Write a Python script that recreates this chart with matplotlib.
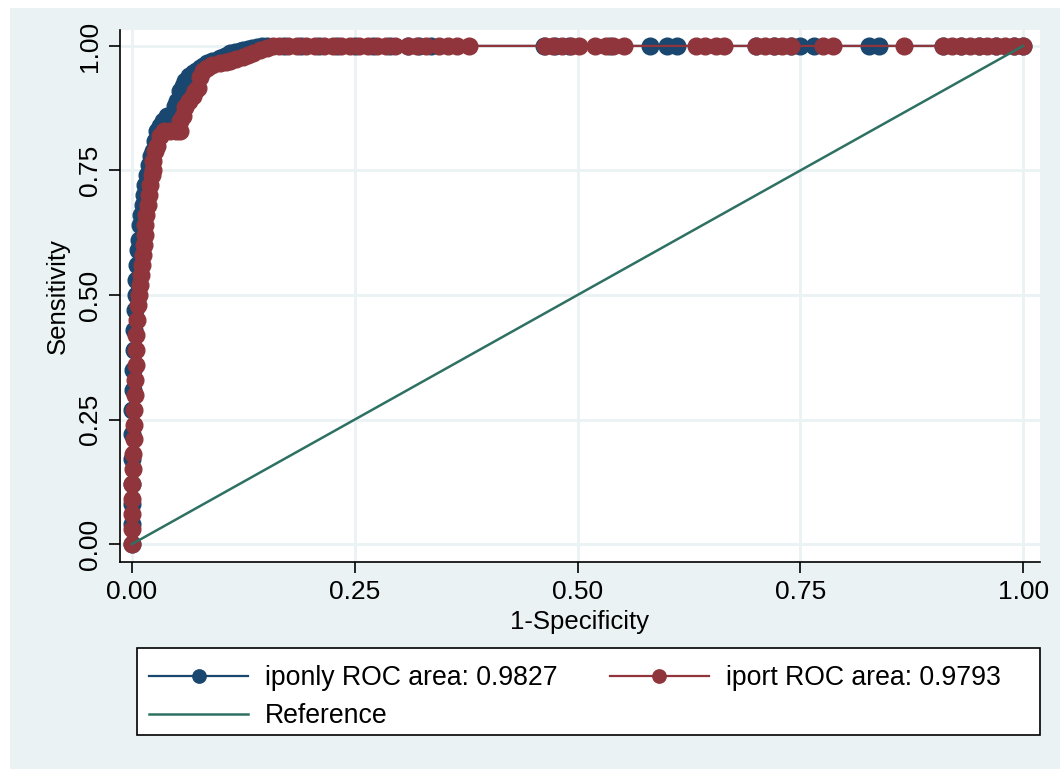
import matplotlib
matplotlib.use('Agg')
import matplotlib.pyplot as plt
from matplotlib.patches import Rectangle

plt.rcParams['font.family'] = ['Liberation Sans', 'DejaVu Sans']

# iponly ROC curve (1-specificity, sensitivity)
iponly_fpr = [0, 0, 0, 0, 0, 0, 0, 0.001, 0.001, 0.002, 0.002, 0.003, 0.004, 0.005,
              0.006, 0.007, 0.008, 0.009, 0.010, 0.012, 0.013, 0.015, 0.017, 0.019,
              0.021, 0.023, 0.026, 0.028, 0.031, 0.035, 0.039, 0.043, 0.048, 0.051,
              0.054, 0.057, 0.060, 0.064, 0.068, 0.072, 0.076, 0.080, 0.084, 0.090,
              0.095, 0.099, 0.104, 0.110, 0.116, 0.121, 0.125, 0.130, 0.135, 0.140,
              0.146, 0.152,
              0.17, 0.19, 0.21, 0.23, 0.25, 0.27, 0.29, 0.31, 0.322, 0.335,
              0.462, 0.475, 0.49, 0.536, 0.581, 0.60, 0.612, 0.70, 0.72, 0.74,
              0.75, 0.765, 0.827, 0.838, 0.91, 0.93, 0.95, 0.97, 0.99, 1.0]
iponly_tpr = [0, 0.04, 0.08, 0.12, 0.17, 0.22, 0.27, 0.31, 0.35, 0.39, 0.43, 0.47,
              0.50, 0.53, 0.56, 0.59, 0.61, 0.64, 0.66, 0.68, 0.70, 0.72, 0.74, 0.76,
              0.78, 0.79, 0.81, 0.83, 0.84, 0.85, 0.86, 0.86, 0.88, 0.89, 0.91, 0.92,
              0.93, 0.94, 0.945, 0.95, 0.955, 0.96, 0.965, 0.97, 0.972, 0.975, 0.98,
              0.985, 0.988, 0.99, 0.992, 0.994, 0.996, 0.997, 0.999, 1.0,
              1, 1, 1, 1, 1, 1, 1, 1, 1, 1,
              1, 1, 1, 1, 1, 1, 1, 1, 1, 1,
              1, 1, 1, 1, 1, 1, 1, 1, 1, 1]

# iport ROC curve
iport_fpr = [0, 0, 0, 0, 0, 0.001, 0.001, 0.002, 0.002, 0.002, 0.003, 0.003, 0.004,
             0.004, 0.005, 0.006, 0.007, 0.008, 0.009, 0.010, 0.011, 0.012, 0.013,
             0.014, 0.015, 0.016, 0.018, 0.019, 0.020, 0.022, 0.023, 0.024, 0.026,
             0.028, 0.031, 0.036, 0.043, 0.049, 0.054, 0.054, 0.057, 0.060, 0.064,
             0.068, 0.071, 0.074, 0.076, 0.080, 0.084, 0.090, 0.099, 0.105, 0.110,
             0.117, 0.125, 0.130, 0.136, 0.144, 0.152, 0.158,
             0.165, 0.175, 0.185, 0.195, 0.205, 0.215, 0.225, 0.235, 0.245, 0.255,
             0.265, 0.275, 0.285, 0.295, 0.31, 0.32, 0.33, 0.345, 0.355, 0.365,
             0.378, 0.463, 0.473, 0.483, 0.493, 0.502, 0.52, 0.532, 0.54, 0.552,
             0.633, 0.643, 0.655, 0.664, 0.70, 0.71, 0.72, 0.73, 0.74, 0.776,
             0.787, 0.866, 0.91, 0.92, 0.93, 0.94, 0.95, 0.96, 0.97, 0.98, 0.99, 1.0]
iport_tpr = [0, 0.03, 0.06, 0.09, 0.12, 0.15, 0.18, 0.21, 0.24, 0.27, 0.30, 0.33,
             0.36, 0.39, 0.42, 0.45, 0.48, 0.50, 0.52, 0.54, 0.56, 0.58, 0.60, 0.62,
             0.64, 0.66, 0.68, 0.70, 0.72, 0.74, 0.75, 0.77, 0.79, 0.80, 0.82, 0.83,
             0.83, 0.83, 0.83, 0.85, 0.86, 0.877, 0.89, 0.90, 0.91, 0.915, 0.938,
             0.95, 0.956, 0.962, 0.966, 0.968, 0.97, 0.974, 0.978, 0.982, 0.986,
             0.992, 0.996, 1.0,
             1, 1, 1, 1, 1, 1, 1, 1, 1, 1,
             1, 1, 1, 1, 1, 1, 1, 1, 1, 1,
             1, 1, 1, 1, 1, 1, 1, 1, 1, 1,
             1, 1, 1, 1, 1, 1, 1, 1, 1, 1,
             1, 1, 1, 1, 1, 1, 1, 1, 1, 1, 1, 1]

ref_x = [0, 1]
ref_y = [0, 1]
ticks = [0, 0.25, 0.5, 0.75, 1.0]
tick_labels = ['0.00', '0.25', '0.50', '0.75', '1.00']

bg = '#eaf2f3'
navy = '#1a476f'
maroon = '#90353b'
green = '#2e7163'

fig = plt.figure(figsize=(10.6, 7.69), dpi=100, facecolor='white')
fig.patches.append(Rectangle((10 / 1060, 0), 1, (769 - 8) / 769,
                             transform=fig.transFigure, facecolor=bg,
                             edgecolor='none', zorder=-10))

ax = fig.add_axes([120 / 1060, (769 - 562) / 769, 920 / 1060, 532 / 769])
ax.set_facecolor('white')

l1, = ax.plot(iponly_fpr, iponly_tpr, '-o', color=navy, lw=1.6, ms=12,
              label='iponly ROC area: 0.9827', zorder=3)
l2, = ax.plot(iport_fpr, iport_tpr, '-o', color=maroon, lw=1.6, ms=12,
              label='iport ROC area: 0.9793', zorder=4)
l3, = ax.plot(ref_x, ref_y, '-', color=green, lw=1.8, label='Reference', zorder=5)

ax.set_xlim(-0.0135, 1.019)
ax.set_ylim(-0.036, 1.032)
ax.set_xticks(ticks)
ax.set_xticklabels(tick_labels)
ax.set_yticks(ticks)
ax.set_yticklabels(tick_labels, rotation=90, va='center')
ax.tick_params(length=8, width=1.2, color='black', labelsize=19, pad=5)
ax.grid(True, color=bg, lw=2)
ax.set_axisbelow(True)
for s in ['top', 'right']:
    ax.spines[s].set_visible(False)
for s in ['left', 'bottom']:
    ax.spines[s].set_linewidth(1.2)

ax.set_xlabel('1-Specificity', fontsize=18.5, labelpad=4)
ax.set_ylabel('Sensitivity', fontsize=18.5, labelpad=6)

# legend box
fig.patches.append(Rectangle((137 / 1060, 34 / 769), 903 / 1060, 87 / 769,
                             transform=fig.transFigure, facecolor='white',
                             edgecolor='black', lw=1.2, zorder=1))
leg = fig.legend([l1, l3, l2], [l1.get_label(), l3.get_label(), l2.get_label()],
                 ncol=2, loc='upper left',
                 bbox_to_anchor=(144 / 1060, (769 - 660) / 769),
                 borderaxespad=0, frameon=False,
                 fontsize=19.2, handlelength=3.7, markerscale=0.8,
                 labelspacing=0.45, borderpad=0.2, handletextpad=0.65,
                 columnspacing=1.95)

plt.savefig('out.png', dpi=100, facecolor=fig.get_facecolor())
